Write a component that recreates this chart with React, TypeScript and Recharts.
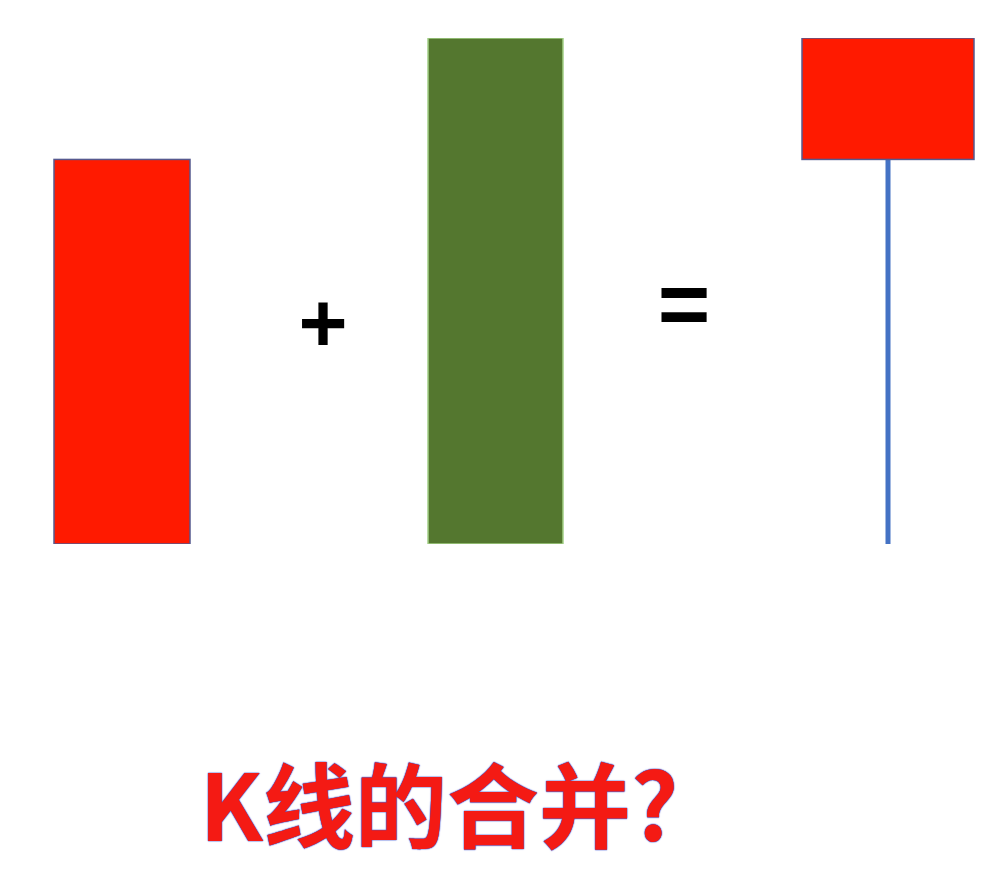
import React from "react";
import { ComposedChart, Bar, XAxis, YAxis } from "recharts";

// ---- data ----
const categories = ["K线1", "K线2", "合并"];
const openValues = [10, 20, 17.6];
const closeValues = [17.6, 10, 20];
const highValues = [17.6, 20, 20];
const lowValues = [10, 10, 10];
const titleText = "K线的合并?";
const operatorLabels = ["+", "="];

const data = categories.map((name, i) => ({
  name,
  open: openValues[i],
  close: closeValues[i],
  high: highValues[i],
  low: lowValues[i],
  range: [lowValues[i], highValues[i]],
}));

// ---- layout / style ----
const W = 1005;
const H = 890;
const bodyWidths = [136, 135, 172];
const centerOffsets = [-45.5, -7, 50.5];
const UP_FILL = "#FF1A00";
const UP_STROKE = "#56598f";
const DOWN_FILL = "#54772F";
const DOWN_STROKE = "#a3cf86";
const WICK = "#4472C4";

const CandleShape = (props: any) => {
  const { x, y, width, height, index, payload } = props;
  if (payload == null) return null;
  const top = Math.min(y, y + height);
  const h = Math.abs(height);
  const { open, close, high, low } = payload;
  const ppu = high - low > 0 ? h / (high - low) : 0;
  const bodyHi = Math.max(open, close);
  const bodyLo = Math.min(open, close);
  const bodyTop = top + (high - bodyHi) * ppu;
  const bodyBot = top + (high - bodyLo) * ppu;
  const cx = x + width / 2 + centerOffsets[index];
  const bw = bodyWidths[index];
  const up = close >= open;
  return (
    <g>
      {bodyBot < top + h - 0.5 && (
        <line x1={cx} x2={cx} y1={bodyBot} y2={top + h} stroke={WICK} strokeWidth={5} />
      )}
      {bodyTop > top + 0.5 && (
        <line x1={cx} x2={cx} y1={top} y2={bodyTop} stroke={WICK} strokeWidth={5} />
      )}
      <rect
        x={cx - bw / 2}
        y={bodyTop}
        width={bw}
        height={bodyBot - bodyTop}
        fill={up ? UP_FILL : DOWN_FILL}
        stroke={up ? UP_STROKE : DOWN_STROKE}
        strokeWidth={1.5}
      />
    </g>
  );
};

const opStyle: React.CSSProperties = {
  position: "absolute",
  fontFamily: "'Liberation Sans', Arial, sans-serif",
  fontWeight: 700,
  color: "#000",
  lineHeight: 1,
  transform: "translate(-50%, -50%)",
  whiteSpace: "nowrap",
};

export default function App() {
  return (
    <div style={{ position: "absolute", left: 0, top: 0, width: W, height: H, background: "#fff" }}>
      <ComposedChart width={W} height={H} data={data} margin={{ top: 38, bottom: 346, left: 0, right: 0 }}>
        <XAxis dataKey="name" type="category" hide />
        <YAxis type="number" domain={[10, 20]} hide allowDataOverflow />
        <Bar dataKey="range" shape={CandleShape} isAnimationActive={false} />
      </ComposedChart>
      <div style={{ ...opStyle, left: 323, top: 323, fontSize: 84 }}>{operatorLabels[0]}</div>
      <div style={{ ...opStyle, left: 684, top: 304, fontSize: 90 }}>{operatorLabels[1]}</div>
      <div
        style={{
          position: "absolute",
          left: 439,
          top: 801,
          transform: "translate(-50%, -50%)",
          fontFamily: "'Noto Sans CJK SC', sans-serif",
          fontWeight: 700,
          fontSize: 92,
          lineHeight: 1,
          color: "#F41A14",
          whiteSpace: "nowrap",
          textShadow: "0 0 1.5px #3b55d0, 0 0 1px #3b55d0, 0 0 1px #3b55d0",
        }}
      >
        {titleText}
      </div>
    </div>
  );
}
